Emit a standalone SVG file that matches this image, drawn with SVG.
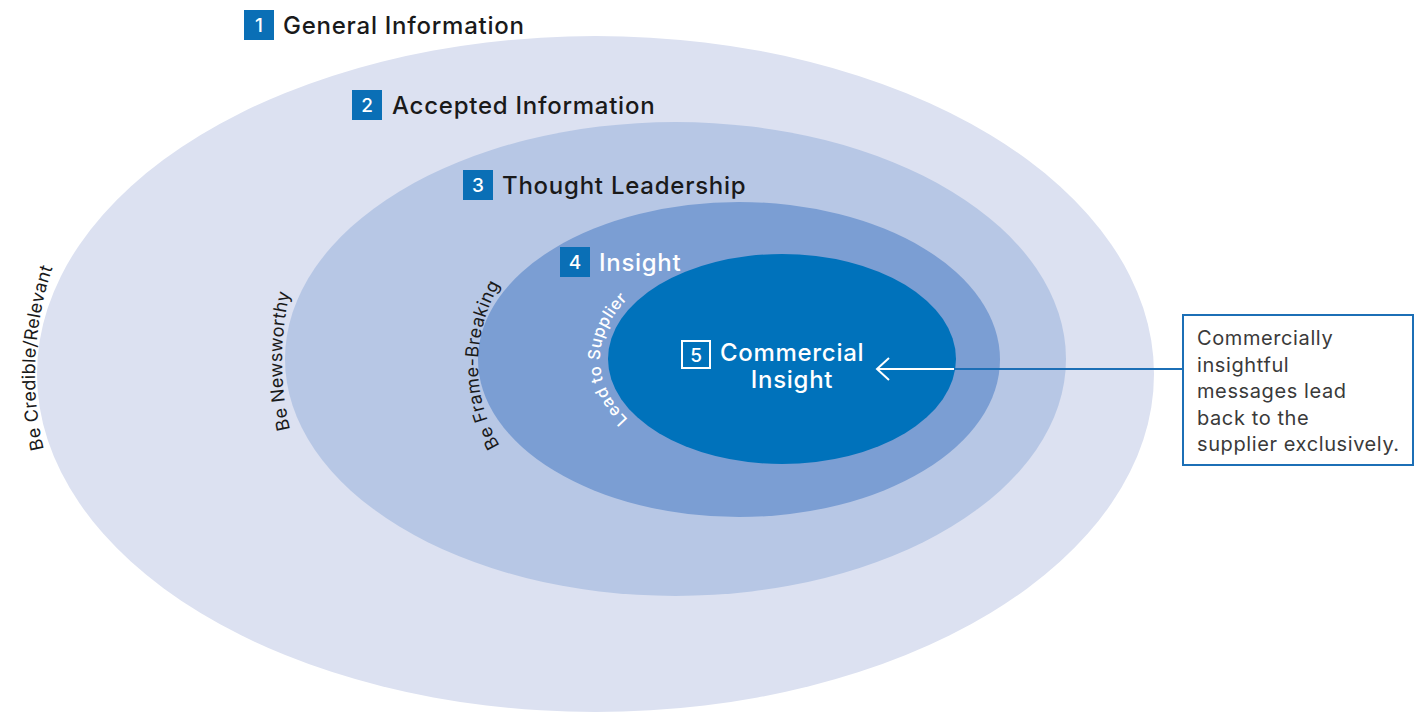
<svg xmlns="http://www.w3.org/2000/svg" width="1416" height="714" viewBox="0 0 1416 714">
<style>
.lbl{font-family:Inter,"Liberation Sans",sans-serif;font-size:24px;letter-spacing:0.75px;fill:#1a1a1a;font-weight:500}
.badge{fill:#0a6fb6}
.num{font-family:Inter,"Liberation Sans",sans-serif;font-size:19px;fill:#fff;text-anchor:middle;font-weight:500}
.curve{font-family:Inter,"Liberation Sans",sans-serif;font-size:18px;letter-spacing:0.3px;fill:#1a1a1a}
.curvew{font-family:Inter,"Liberation Sans",sans-serif;font-size:16.5px;letter-spacing:0.5px;fill:#fff;font-weight:500}
.wt{font-family:Inter,"Liberation Sans",sans-serif;font-size:24px;letter-spacing:0.7px;fill:#fff;font-weight:500}
.call{font-family:Inter,"Liberation Sans",sans-serif;font-size:20px;letter-spacing:0.6px;fill:#3a3a3a}
</style>
<defs>
<path id="p1" d="M195.9,660.1 A350,340 0 0 1 224.5,71.9"/>
<path id="p2" d="M389.2,590.8 A300,300 0 0 1 389.2,131.2"/>
<path id="p3" d="M570.4,510 A160,160 0 0 1 570.4,220"/>
<path id="p4" d="M691,456.9 A182,113 0 0 1 691,261.1"/>
</defs>
<rect width="1416" height="714" fill="#fff"/>
<g id="ring1">
<ellipse cx="595.5" cy="374" rx="558.5" ry="338" fill="#dce1f1"/>
</g>
<g id="ring2">
<ellipse cx="675.5" cy="359" rx="390.5" ry="237" fill="#b7c7e5"/>
</g>
<g id="ring3">
<ellipse cx="739" cy="359.5" rx="261" ry="157.5" fill="#7b9ed3"/>
</g>
<g id="ring4">
<ellipse cx="782" cy="359" rx="174" ry="105" fill="#0072bb"/>
</g>
<g id="curved-labels">
<text class="curve"><textPath href="#p1" startOffset="50%" text-anchor="middle">Be Credible/Relevant</textPath></text>
<text class="curve"><textPath href="#p2" startOffset="50%" text-anchor="middle">Be Newsworthy</textPath></text>
<text class="curve"><textPath href="#p3" startOffset="50%" text-anchor="middle">Be Frame-Breaking</textPath></text>
<text class="curvew"><textPath href="#p4" startOffset="50%" text-anchor="middle">Lead to Supplier</textPath></text>
</g>
<g id="label1">
<rect class="badge" x="244" y="10" width="30" height="30"/>
<text class="num" x="259" y="32">1</text>
<text class="lbl" x="283" y="34">General Information</text>
</g>
<g id="label2">
<rect class="badge" x="352" y="90" width="30" height="30"/>
<text class="num" x="367" y="112">2</text>
<text class="lbl" x="392" y="114">Accepted Information</text>
</g>
<g id="label3">
<rect class="badge" x="463" y="170" width="30" height="30"/>
<text class="num" x="478" y="192">3</text>
<text class="lbl" x="502" y="194">Thought Leadership</text>
</g>
<g id="label4">
<rect class="badge" x="560" y="247" width="30" height="30" fill="#0070b8"/>
<text class="num" x="575" y="269">4</text>
<text class="wt" x="599" y="271">Insight</text>
</g>
<g id="label5">
<rect x="682" y="341" width="28" height="27" fill="none" stroke="#fff" stroke-width="2"/>
<text class="num" x="696" y="362">5</text>
<text class="wt" x="720" y="361">Commercial</text>
<text class="wt" x="792" y="388" text-anchor="middle">Insight</text>
</g>
<g id="connectors">
<line x1="878" y1="369" x2="954" y2="369" stroke="#fff" stroke-width="2"/>
<polyline points="889,358 877,369 889,380" fill="none" stroke="#fff" stroke-width="2"/>
<line x1="954" y1="369" x2="1183" y2="369" stroke="#1c6fb6" stroke-width="2"/>
</g>
<g id="callout">
<rect x="1183" y="315" width="230" height="150" fill="#fff" stroke="#1c6fb6" stroke-width="2"/>
<text class="call" x="1197" y="345">Commercially</text>
<text class="call" x="1197" y="372">insightful</text>
<text class="call" x="1197" y="398">messages lead</text>
<text class="call" x="1197" y="425">back to the</text>
<text class="call" x="1197" y="451">supplier exclusively.</text>
</g>
</svg>
